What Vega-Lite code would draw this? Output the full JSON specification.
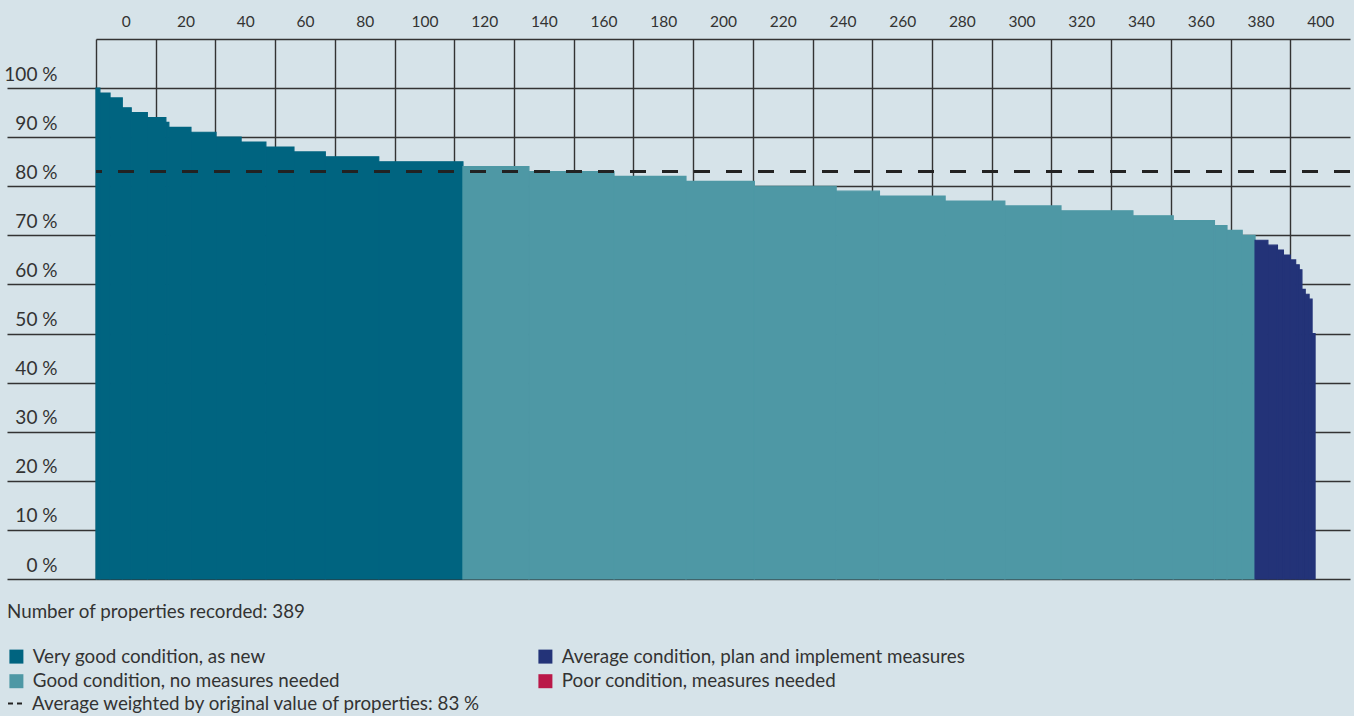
{
  "$schema": "https://vega.github.io/schema/vega-lite/v6.json",
  "width": 1254,
  "height": 540,
  "autosize": {"type": "none"},
  "padding": {"left": 96, "top": 39, "right": 4, "bottom": 137},
  "background": "#d6e3e9",
  "config": {"view": {"stroke": null}, "font": "Lato"},
  "layer": [
    {
      "data": {
        "values": [
          {"start": -10, "end": -8.7, "score": 100, "condition": "Very good condition, as new"},
          {"start": -8.7, "end": -5.3, "score": 99, "condition": "Very good condition, as new"},
          {"start": -5.3, "end": -1.2, "score": 98, "condition": "Very good condition, as new"},
          {"start": -1.2, "end": 1.8, "score": 96, "condition": "Very good condition, as new"},
          {"start": 1.8, "end": 7.2, "score": 95, "condition": "Very good condition, as new"},
          {"start": 7.2, "end": 13.4, "score": 94, "condition": "Very good condition, as new"},
          {"start": 13.4, "end": 14.4, "score": 93, "condition": "Very good condition, as new"},
          {"start": 14.4, "end": 21.8, "score": 92, "condition": "Very good condition, as new"},
          {"start": 21.8, "end": 30.2, "score": 91, "condition": "Very good condition, as new"},
          {"start": 30.2, "end": 38.6, "score": 90, "condition": "Very good condition, as new"},
          {"start": 38.6, "end": 46.9, "score": 89, "condition": "Very good condition, as new"},
          {"start": 46.9, "end": 56.3, "score": 88, "condition": "Very good condition, as new"},
          {"start": 56.3, "end": 66.8, "score": 87, "condition": "Very good condition, as new"},
          {"start": 66.8, "end": 84.7, "score": 86, "condition": "Very good condition, as new"},
          {"start": 84.7, "end": 112.9, "score": 85, "condition": "Very good condition, as new"},
          {"start": 112.9, "end": 135.0, "score": 84, "condition": "Good condition, no measures needed"},
          {"start": 135.0, "end": 163.5, "score": 83, "condition": "Good condition, no measures needed"},
          {"start": 163.5, "end": 187.6, "score": 82, "condition": "Good condition, no measures needed"},
          {"start": 187.6, "end": 210.5, "score": 81, "condition": "Good condition, no measures needed"},
          {"start": 210.5, "end": 237.9, "score": 80, "condition": "Good condition, no measures needed"},
          {"start": 237.9, "end": 252.4, "score": 79, "condition": "Good condition, no measures needed"},
          {"start": 252.4, "end": 274.4, "score": 78, "condition": "Good condition, no measures needed"},
          {"start": 274.4, "end": 294.4, "score": 77, "condition": "Good condition, no measures needed"},
          {"start": 294.4, "end": 313.2, "score": 76, "condition": "Good condition, no measures needed"},
          {"start": 313.2, "end": 337.3, "score": 75, "condition": "Good condition, no measures needed"},
          {"start": 337.3, "end": 350.8, "score": 74, "condition": "Good condition, no measures needed"},
          {"start": 350.8, "end": 364.6, "score": 73, "condition": "Good condition, no measures needed"},
          {"start": 364.6, "end": 368.8, "score": 72, "condition": "Good condition, no measures needed"},
          {"start": 368.8, "end": 373.9, "score": 71, "condition": "Good condition, no measures needed"},
          {"start": 373.9, "end": 378.2, "score": 70, "condition": "Good condition, no measures needed"},
          {"start": 378.2, "end": 382.5, "score": 69, "condition": "Average condition, plan and implement measures"},
          {"start": 382.5, "end": 385.7, "score": 68, "condition": "Average condition, plan and implement measures"},
          {"start": 385.7, "end": 387.7, "score": 67, "condition": "Average condition, plan and implement measures"},
          {"start": 387.7, "end": 390.0, "score": 66, "condition": "Average condition, plan and implement measures"},
          {"start": 390.0, "end": 391.8, "score": 65, "condition": "Average condition, plan and implement measures"},
          {"start": 391.8, "end": 393.0, "score": 64, "condition": "Average condition, plan and implement measures"},
          {"start": 393.0, "end": 393.9, "score": 63, "condition": "Average condition, plan and implement measures"},
          {"start": 393.9, "end": 395.0, "score": 59, "condition": "Average condition, plan and implement measures"},
          {"start": 395.0, "end": 396.3, "score": 58, "condition": "Average condition, plan and implement measures"},
          {"start": 396.3, "end": 397.3, "score": 57, "condition": "Average condition, plan and implement measures"},
          {"start": 397.3, "end": 398.3, "score": 50, "condition": "Average condition, plan and implement measures"}
        ]
      },
      "mark": {"type": "rect", "stroke": {"expr": "scale('color', datum.condition)"}, "strokeWidth": 1.2},
      "encoding": {
        "x": {
          "field": "start",
          "type": "quantitative",
          "scale": {"domain": [-10, 410], "nice": false, "zero": false},
          "axis": {
            "orient": "top",
            "title": null,
            "values": [-10, 10, 30, 50, 70, 90, 110, 130, 150, 170, 190, 210, 230, 250, 270, 290, 310, 330, 350, 370, 390],
            "labelExpr": "datum.value + 10",
            "labelOffset": 29.86,
            "labelFlush": false,
            "labelOverlap": false,
            "ticks": false,
            "labelPadding": 10,
            "labelFontSize": 15.5,
            "labelColor": "#333333",
            "domain": true,
            "domainColor": "#333333",
            "domainWidth": 1.5,
            "grid": true,
            "gridColor": "#333333",
            "gridWidth": 1.4,
            "gridOpacity": 1
          }
        },
        "x2": {"field": "end"},
        "y": {
          "field": "score",
          "type": "quantitative",
          "scale": {"domain": [0, 110], "nice": false},
          "axis": {
            "orient": "left",
            "title": null,
            "values": [0, 10, 20, 30, 40, 50, 60, 70, 80, 90, 100],
            "labelExpr": "datum.value + ' %'",
            "tickSize": 89,
            "tickColor": "#333333",
            "tickWidth": 1.5,
            "labelAlign": "right",
            "labelBaseline": "alphabetic",
            "labelPadding": -50,
            "labelOffset": -8,
            "labelFontSize": 19,
            "labelColor": "#333333",
            "labelFlush": false,
            "labelOverlap": false,
            "domain": false,
            "grid": true,
            "gridColor": "#333333",
            "gridWidth": 1.5,
            "gridOpacity": 1
          }
        },
        "y2": {"datum": 0},
        "color": {
          "field": "condition",
          "type": "nominal",
          "scale": {
            "domain": ["Very good condition, as new", "Good condition, no measures needed", "Average condition, plan and implement measures", "Poor condition, measures needed"],
            "range": ["#006480", "#4e98a5", "#233378", "#ba1848"]
          },
          "legend": {
            "orient": "none",
            "legendX": -89,
            "legendY": 564,
            "title": "Number of properties recorded: 389",
            "titleLimit": 900,
            "titleFontSize": 18.8,
            "titleFontWeight": "normal",
            "titleColor": "#333333",
            "titlePadding": 25,
            "columns": 2,
            "columnPadding": 196,
            "rowPadding": 5,
            "symbolType": "square",
            "symbolSize": 196,
            "symbolStrokeWidth": 0,
            "symbolOpacity": 1,
            "labelFontSize": 18.8,
            "labelColor": "#333333",
            "labelOffset": 7,
            "labelLimit": 700,
            "padding": 0
          }
        }
      }
    },
    {
      "data": {"values": [{"avg": 83, "label": "Average weighted by original value of properties: 83 %"}]},
      "mark": {"type": "rule", "strokeDash": [16, 16], "strokeWidth": 3},
      "encoding": {
        "y": {"field": "avg", "type": "quantitative"},
        "stroke": {
          "field": "label",
          "type": "nominal",
          "scale": {"range": ["#222222"]},
          "legend": {
            "orient": "none",
            "legendX": -89,
            "legendY": 655,
            "title": null,
            "symbolType": "stroke",
            "symbolSize": 289,
            "symbolDash": [5, 4],
            "symbolStrokeWidth": 2,
            "labelFontSize": 18.8,
            "labelColor": "#333333",
            "labelOffset": 6,
            "labelLimit": 800,
            "padding": 0
          }
        }
      }
    }
  ]
}
